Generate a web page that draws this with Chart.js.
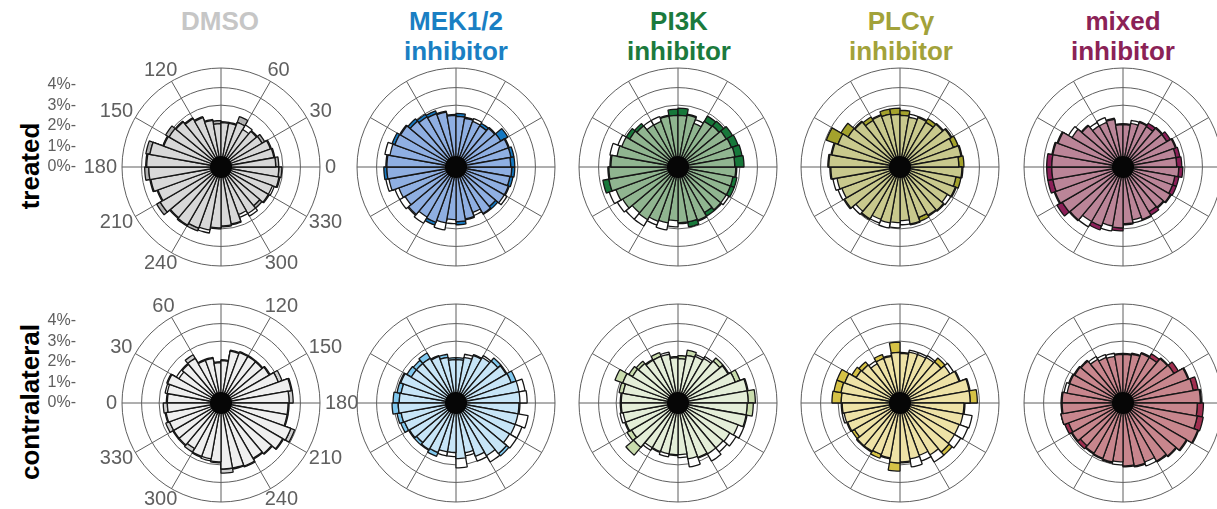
<!DOCTYPE html>
<html>
<head>
<meta charset="utf-8">
<script src="https://cdn.jsdelivr.net/npm/chart.js@4.4.1/dist/chart.umd.min.js"></script>
<style>
  html, body { margin: 0; padding: 0; background: #fff; }
  #fig { position: relative; width: 1217px; height: 509px; overflow: hidden;
         font-family: "Liberation Sans", Arial, sans-serif; background: #fff; }
  .head { position: absolute; top: 6px; width: 240px; margin-left: -120px; text-align: center;
          font-weight: bold; font-size: 26px; line-height: 30px; }
  .row { position: absolute; font-weight: bold; font-size: 26px; color: #000; white-space: nowrap;
         transform: translate(-50%, -50%) rotate(-90deg); }
  canvas { position: absolute; }
</style>
</head>
<body>
<div id="fig">
  <div class="head" style="left:220px;color:#c6c6c6">DMSO</div>
  <div class="head" style="left:456px;color:#1a7fc3">MEK1/2<br>inhibitor</div>
  <div class="head" style="left:679px;color:#1b7a3d">PI3K<br>inhibitor</div>
  <div class="head" style="left:901px;color:#a2a23a">PLCγ<br>inhibitor</div>
  <div class="head" style="left:1123px;color:#8b2256">mixed<br>inhibitor</div>
  <div class="row" style="left:30px;top:166px">treated</div>
  <div class="row" style="left:30px;top:402px">contralateral</div>
</div>
<script>
// Direction histograms: percent of cells per 10° bin.
// Treated panels: bins run counter-clockwise from 0° (east).
// Contralateral panels: bins run clockwise from 0° (west), mirrored axis.
const binLabels = ['0','10','20','30','40','50','60','70','80','90','100','110',
  '120','130','140','150','160','170','180','190','200','210','220','230',
  '240','250','260','270','280','290','300','310','320','330','340','350'];
const angleTicks = [0, 30, 60, 120, 150, 180, 210, 240, 300, 330];
const percentTicks = [0, 1, 2, 3, 4];
const ringValues = [0, 3, 3.85, 4.8];

// treated
const treated_DMSO     = [2.80,2.65,2.60,2.45,2.30,2.10,2.60,2.20,2.20,2.25,2.35,2.60,2.75,2.90,3.10,3.00,3.70,3.65,3.70,3.50,3.30,3.60,3.25,3.30,3.30,3.10,3.00,2.90,2.85,2.45,2.60,2.60,2.70,2.65,2.90,2.95];
const treated_DMSO_ref = [2.65,2.60,2.55,2.30,2.25,2.35,2.30,2.15,2.15,2.10,2.30,2.55,2.70,2.85,2.90,2.95,3.50,3.60,3.50,3.45,3.25,3.40,3.20,3.25,3.15,3.25,2.95,2.85,2.80,2.60,2.75,2.45,2.65,2.75,2.85,2.80];
const treated_MEK      = [2.85,2.85,2.75,2.90,2.50,2.45,2.35,2.45,2.60,2.55,2.75,2.90,2.95,3.05,3.15,3.30,3.25,3.40,3.50,3.30,2.95,2.85,3.00,2.80,3.00,2.75,2.55,2.80,2.60,2.35,2.65,2.65,2.70,2.75,2.80,2.85];
const treated_MEK_ref  = [2.65,2.70,2.70,2.50,2.45,2.30,2.50,2.40,2.45,2.50,2.70,2.75,2.80,2.90,3.10,3.15,3.50,3.35,3.35,3.45,3.15,3.15,3.05,3.15,2.85,3.10,2.75,2.65,2.55,2.50,2.60,2.50,2.85,2.70,2.65,2.70];
const treated_PI3K     = [3.20,3.15,3.10,3.05,2.90,2.85,2.25,2.60,2.85,2.80,2.55,2.35,2.35,2.75,2.90,2.90,3.00,3.30,3.40,3.70,3.20,3.10,2.90,2.95,2.80,2.75,2.60,2.75,2.95,2.80,2.75,2.75,2.70,2.90,2.90,2.85];
const treated_PI3K_ref = [2.75,2.80,2.75,2.70,2.60,2.55,2.45,2.55,2.50,2.50,2.50,2.60,2.60,2.60,2.70,3.10,3.35,3.25,3.35,3.40,3.55,3.40,3.30,3.30,3.00,3.10,2.90,2.70,2.70,2.75,2.55,2.70,2.85,2.70,2.70,2.80];
const treated_PLC      = [3.10,3.05,3.00,2.90,2.75,2.70,2.60,2.45,2.75,2.85,2.85,2.70,2.80,2.90,3.30,3.80,3.40,3.50,3.40,3.10,3.00,3.15,2.80,2.95,2.70,2.75,2.70,2.60,2.85,2.80,2.75,2.80,2.65,2.90,3.00,3.05];
const treated_PLC_ref  = [2.85,3.00,2.75,2.85,2.70,2.50,2.55,2.60,2.50,2.55,2.60,2.65,2.60,2.85,2.90,3.20,3.35,3.45,3.35,3.30,3.20,3.10,3.00,2.90,2.90,3.00,2.95,2.80,2.80,2.60,2.70,2.75,2.85,2.85,2.75,3.00];
const treated_mixed    = [2.85,2.80,2.75,2.65,2.50,2.45,2.35,2.15,2.10,2.10,2.40,2.30,2.30,2.65,2.85,3.40,3.50,3.70,3.70,3.70,3.55,3.70,3.40,3.05,3.25,2.90,3.10,2.80,2.60,2.75,2.70,2.60,2.70,2.75,2.75,2.90];
const treated_mixed_ref= [2.60,2.60,2.70,2.45,2.45,2.25,2.30,2.30,2.05,2.05,2.35,2.55,2.50,2.60,3.05,3.35,3.45,3.45,3.45,3.45,3.50,3.40,3.35,3.35,3.05,3.15,2.95,2.75,2.75,2.70,2.50,2.55,2.65,2.55,2.55,2.70];

// contralateral
const contra_DMSO      = [2.65,2.65,2.80,2.35,2.50,2.70,2.25,2.25,2.00,2.10,2.60,2.65,2.65,2.65,2.75,3.15,3.50,3.50,3.30,3.30,3.80,3.50,3.25,3.15,3.30,3.25,3.40,2.90,2.75,2.80,2.75,2.70,2.70,2.85,2.75,2.80];
const contra_DMSO_ref  = [2.60,2.75,2.75,2.50,2.45,2.50,2.20,2.20,1.95,2.05,2.55,2.60,2.60,2.60,2.70,2.95,3.45,3.30,3.25,3.25,3.60,3.45,3.20,3.10,3.25,3.20,3.20,2.85,2.85,2.75,2.55,2.65,2.65,2.65,2.70,2.60];
const contra_MEK       = [3.05,2.90,2.90,2.75,2.70,2.80,2.45,2.40,2.20,2.20,2.25,2.50,2.55,2.85,2.85,3.10,3.10,3.10,3.10,3.05,3.05,3.00,3.35,2.95,2.75,2.45,2.70,2.40,2.40,2.75,2.65,2.65,2.65,2.85,2.90,3.10];
const contra_MEK_ref   = [2.75,2.70,2.85,2.50,2.50,2.50,2.40,2.25,2.10,2.10,2.40,2.45,2.65,2.65,2.80,2.85,3.40,3.45,3.05,3.55,3.40,3.40,3.20,3.30,3.00,2.60,3.15,2.60,2.60,2.55,2.60,2.50,2.60,2.65,2.70,2.80];
const contra_PI3K      = [2.80,2.90,3.25,2.75,2.65,2.45,2.60,2.40,2.25,2.30,2.60,2.40,2.50,2.85,2.85,3.20,3.45,3.75,3.65,3.40,3.10,2.90,2.85,2.85,2.85,2.75,2.50,2.55,2.50,2.55,2.50,3.30,2.85,2.75,2.70,2.80];
const contra_PI3K_ref  = [2.75,2.70,2.85,2.55,2.50,2.40,2.40,2.50,2.20,2.15,2.35,2.50,2.60,2.65,2.80,2.95,3.40,3.40,3.35,3.35,3.40,3.25,3.10,3.25,2.80,3.15,2.65,2.50,2.65,2.50,2.65,2.80,2.60,2.70,2.85,2.75];
const contra_PLC       = [3.30,3.25,3.25,2.70,2.60,2.20,2.50,2.35,2.95,2.45,2.50,2.50,2.55,2.85,2.80,3.10,3.45,3.75,3.15,3.10,3.05,3.05,3.30,2.90,2.70,2.75,2.90,3.30,2.75,2.85,2.75,2.75,2.70,2.75,2.75,2.85];
const contra_PLC_ref   = [2.85,2.90,2.85,2.45,2.40,2.35,2.30,2.30,2.45,2.40,2.60,2.60,2.65,2.60,3.00,3.05,3.40,3.40,3.10,3.55,3.50,3.40,3.10,3.30,3.00,3.15,2.85,2.90,2.70,2.65,2.70,2.70,2.55,2.70,2.85,2.80];
const contra_mixed     = [3.00,2.75,2.80,2.75,2.70,2.45,2.35,2.30,2.40,2.40,2.45,2.60,2.75,2.85,3.10,3.40,3.70,3.80,3.90,3.95,3.90,3.60,3.40,3.30,3.05,3.15,3.10,2.85,2.95,2.90,2.85,2.90,2.90,3.00,3.05,3.00];
const contra_mixed_ref = [2.95,2.90,2.75,2.70,2.65,2.60,2.50,2.45,2.35,2.35,2.40,2.55,2.55,2.80,2.85,3.35,3.45,3.75,3.60,3.65,3.85,3.55,3.35,3.25,3.25,3.10,3.05,3.00,2.90,2.85,2.80,2.70,2.85,2.80,3.05,2.95];

const R = 99;          // outer ring radius in px
const RMAX = 4.8;      // value at the outer ring (%)
const GRID = '#5e5e5e';
const EDGE = '#161616';

const panels = [
  { treated: true,  cx: 221,  cy: 167, drug: treated_DMSO,  ref: treated_DMSO_ref,  light: '#d8d8d8', dark: '#b1b1b1', labels: true },
  { treated: true,  cx: 456,  cy: 167, drug: treated_MEK,   ref: treated_MEK_ref,   light: '#8fafe2', dark: '#1679c2' },
  { treated: true,  cx: 678,  cy: 167, drug: treated_PI3K,  ref: treated_PI3K_ref,  light: '#90b590', dark: '#17783a' },
  { treated: true,  cx: 900,  cy: 167, drug: treated_PLC,   ref: treated_PLC_ref,   light: '#c9c98d', dark: '#a4a22c' },
  { treated: true,  cx: 1123, cy: 167, drug: treated_mixed, ref: treated_mixed_ref, light: '#bb8598', dark: '#8c1f58' },
  { treated: false, cx: 221,  cy: 403, drug: contra_DMSO,   ref: contra_DMSO_ref,   light: '#efefef', dark: '#d0d0d0', labels: true },
  { treated: false, cx: 456,  cy: 403, drug: contra_MEK,    ref: contra_MEK_ref,    light: '#c7e5f7', dark: '#80c8ef' },
  { treated: false, cx: 678,  cy: 403, drug: contra_PI3K,   ref: contra_PI3K_ref,   light: '#e4eed8', dark: '#c9dcad' },
  { treated: false, cx: 900,  cy: 403, drug: contra_PLC,    ref: contra_PLC_ref,    light: '#eee2a6', dark: '#d6c246' },
  { treated: false, cx: 1123, cy: 403, drug: contra_mixed,  ref: contra_mixed_ref,  light: '#c8868d', dark: '#a12f50' }
];

// hub disk, angle labels and percent ticks
const decorations = {
  id: 'decorations',
  afterDatasetsDraw(chart, args, opts) {
    const s = chart.scales.r, ctx = chart.ctx;
    const xc = s.xCenter, yc = s.yCenter, rad = s.drawingArea;
    ctx.save();
    ctx.beginPath();
    ctx.arc(xc, yc, 11, 0, Math.PI * 2);
    ctx.fillStyle = '#060606';
    ctx.fill();
    if (opts.labels) {
      ctx.fillStyle = '#5f5f5f';
      ctx.font = '20px "Liberation Sans", Arial, sans-serif';
      ctx.textAlign = 'center';
      ctx.textBaseline = 'middle';
      angleTicks.forEach(a => {
        const deg = opts.treated ? a : 180 - a;
        const t = deg * Math.PI / 180;
        const ux = Math.cos(t), uy = -Math.sin(t);
        const txt = String(a);
        const w = ctx.measureText(txt).width;
        ctx.fillText(txt, xc + (rad + 5) * ux + (w / 2) * ux, yc + (rad + 5) * uy + 7 * uy);
      });
      ctx.font = '16px "Liberation Sans", Arial, sans-serif';
      ctx.textAlign = 'right';
      percentTicks.forEach(v => {
        ctx.fillText(v + '%-', xc - 145, yc - s.getDistanceFromCenterForValue(v));
      });
    }
    ctx.restore();
  }
};

const fig = document.getElementById('fig');

panels.forEach(p => {
  const padL = p.labels ? 90 : 3, padR = p.labels ? 48 : 3;
  const padT = p.labels ? 30 : 3, padB = p.labels ? 30 : 3;
  const w = 2 * R + padL + padR, h = 2 * R + padT + padB;
  const c = document.createElement('canvas');
  c.width = w; c.height = h;
  c.style.width = w + 'px'; c.style.height = h + 'px';
  c.style.left = (p.cx - R - padL) + 'px';
  c.style.top = (p.cy - R - padT) + 'px';
  fig.appendChild(c);

  // chart index runs clockwise on screen; treated bins run the other way
  const order = a => p.treated ? a.slice().reverse() : a.slice();
  const drug = order(p.drug), ref = order(p.ref);
  const shared = drug.map((v, i) => Math.min(v, ref[i]));

  new Chart(c, {
    type: 'polarArea',
    data: {
      labels: order(binLabels),
      datasets: [
        { label: 'shared', data: shared, backgroundColor: p.light },
        { label: 'reference', data: ref, backgroundColor: '#ffffff' },
        { label: 'inhibitor', data: drug, backgroundColor: p.dark }
      ]
    },
    options: {
      responsive: false,
      animation: false,
      devicePixelRatio: 1,
      layout: { padding: { left: padL, right: padR, top: padT, bottom: padB } },
      elements: { arc: { borderColor: EDGE, borderWidth: 1.3, borderAlign: 'center' } },
      plugins: {
        legend: { display: false },
        tooltip: { enabled: false },
        decorations: { labels: !!p.labels, treated: p.treated }
      },
      scales: {
        r: {
          min: 0, max: RMAX,
          startAngle: p.treated ? 90 : 270,
          ticks: { display: false },
          afterBuildTicks: axis => { axis.ticks = ringValues.map(v => ({ value: v })); },
          grid: { circular: true, color: GRID, lineWidth: 1 },
          angleLines: { display: true, lineWidth: 1,
                        color: ctx => (ctx.index % 3 === 0 ? GRID : 'rgba(0,0,0,0)') },
          pointLabels: { display: false }
        }
      }
    },
    plugins: [decorations]
  });
});
</script>
</body>
</html>
